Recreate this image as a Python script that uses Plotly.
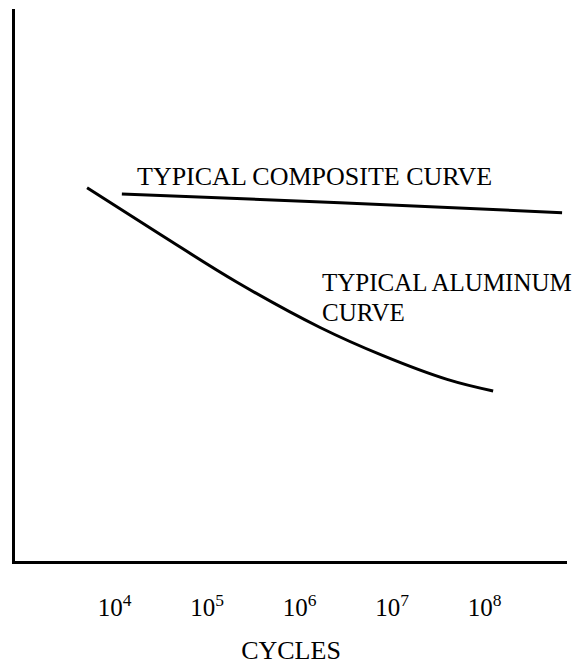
import plotly.graph_objects as go

# Data (cycles, relative stress in arbitrary units)
aluminum_cycles = [5.05e3, 3.1e4, 2.11e5, 1.67e6, 8.0e6, 3.94e7, 1.24e8]
aluminum_stress = [67.6, 59.2, 50.5, 42.3, 37.2, 32.9, 30.8]

composite_cycles = [1.2e4, 2.74e6, 6.9e8]
composite_stress = [66.5, 64.9, 63.1]

tick_vals = [1e4, 1e5, 1e6, 1e7, 1e8]
tick_text = ["10<sup>4</sup>", "10<sup>5</sup>", "10<sup>6</sup>", "10<sup>7</sup>", "10<sup>8</sup>"]

FONT = "Liberation Serif, Times New Roman, serif"

fig = go.Figure()
fig.add_trace(go.Scatter(x=composite_cycles, y=composite_stress, mode="lines",
                         line=dict(color="black", width=3), hoverinfo="skip"))
fig.add_trace(go.Scatter(x=aluminum_cycles, y=aluminum_stress, mode="lines",
                         line=dict(color="black", width=3, shape="spline", smoothing=1.1),
                         hoverinfo="skip"))

fig.add_annotation(text="TYPICAL COMPOSITE CURVE", xref="paper", yref="paper",
                   x=0.217, y=0.6957, xanchor="left", yanchor="middle", showarrow=False,
                   font=dict(family=FONT, size=26, color="black"))
fig.add_annotation(text="TYPICAL ALUMINUM", xref="paper", yref="paper",
                   x=0.5525, y=0.5045, xanchor="left", yanchor="middle", showarrow=False,
                   font=dict(family=FONT, size=25, color="black"))
fig.add_annotation(text="CURVE", xref="paper", yref="paper",
                   x=0.5525, y=0.451, xanchor="left", yanchor="middle", showarrow=False,
                   font=dict(family=FONT, size=25, color="black"))

fig.update_xaxes(type="log", range=[2.924, 8.892], showgrid=False, zeroline=False,
                 showline=True, linecolor="black", linewidth=3, automargin=False,
                 tickvals=tick_vals, ticktext=tick_text, ticks="outside",
                 ticklen=22, tickcolor="rgba(0,0,0,0)",
                 tickfont=dict(family=FONT, size=25, color="black"),
                 title=dict(text="CYCLES", font=dict(family=FONT, size=26, color="black"),
                            standoff=21))
fig.update_yaxes(range=[0, 100], showgrid=False, zeroline=False, showticklabels=False,
                 showline=True, linecolor="black", linewidth=3, automargin=False)

fig.update_layout(width=573, height=658, margin=dict(l=7, r=14, t=1, b=105),
                  plot_bgcolor="white", paper_bgcolor="white", showlegend=False)

fig.write_html("out.html")
